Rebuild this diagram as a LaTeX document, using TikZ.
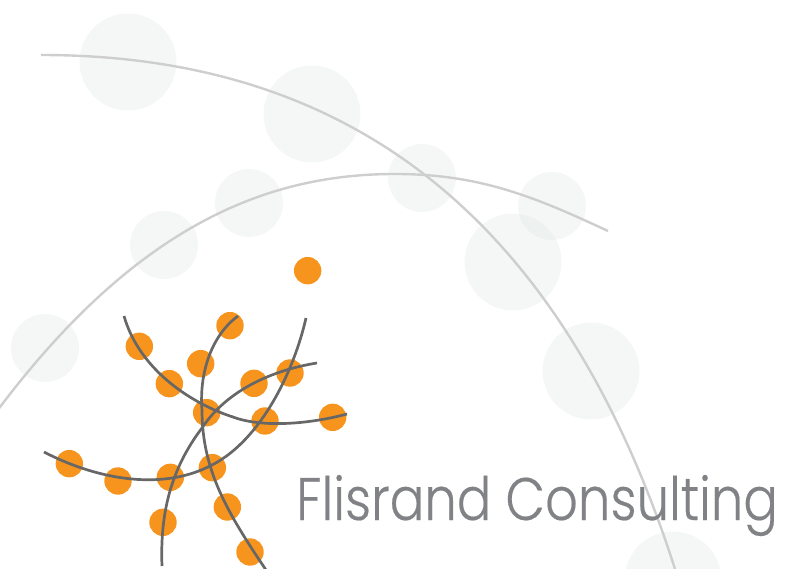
\documentclass[tikz,border=0pt]{standalone}
\usepackage{fontspec}
\setmainfont{Poppins Light}
\newfontfamily\titlefont[FakeStretch=0.855,FakeBold=0.3]{Poppins Light}
\definecolor{orangedot}{HTML}{F7941D}
\definecolor{darkarc}{HTML}{666766}
\definecolor{lightarc}{HTML}{CDCECD}
\definecolor{bubble}{RGB}{205,215,210}
\definecolor{titlegray}{HTML}{808285}
\tikzset{
  bigbub/.style={fill=bubble,fill opacity=.2,draw=none},
  dot/.style={fill=orangedot,draw=none},
  lightcurve/.style={draw=lightarc,line width=2.4pt},
  darkcurve/.style={draw=darkarc,line width=2.7pt},
}
\begin{document}
\begin{tikzpicture}[x=1pt,y=-1pt]
\useasboundingbox (0,0) rectangle (788,569);
\clip (0,0) rectangle (788,569);
\foreach \x/\y in {128/62,312/114,513/262,591/371,673/580}
  \fill[bigbub] (\x,\y) circle[radius=48.5];
\foreach \x/\y in {422/178,552/206,249/203,164/245,45/348}
  \fill[bigbub] (\x,\y) circle[radius=34];
\draw[lightcurve] (41,55) .. controls (340,55) and (559,207) .. (675,569);
\draw[lightcurve] (-3,411) .. controls (135,227) and (265,174) .. (395,174) .. controls (480,174) and (535,197) .. (608,231);
\foreach \x/\y in {923/62,690/227,418/289,602/341,508/401,762/400,870/369,620/488,795/513,998/502,208/641,354/693,511/682,637/653,682/771,489/817,750/906}
  \fill[dot] ({\x/3},{\y/3+250}) circle[radius=13.7];
\draw[darkcurve] (124,316) .. controls (140,372) and (195,405) .. (233,417) .. controls (262,428) and (310,424) .. (347,414);
\draw[darkcurve] (306,318) .. controls (294,371) and (261,440) .. (212,465) .. controls (159,493) and (92,477) .. (44,452);
\draw[darkcurve] (317,363) .. controls (273,370) and (227,390) .. (202,428) .. controls (170,470) and (160,515) .. (162,566);
\draw[darkcurve] (238,316) .. controls (212,335) and (199,372) .. (202,410) .. controls (202,470) and (227,512) .. (266,570);
\node[anchor=base west,inner sep=0pt,text=titlegray,font=\titlefont\fontsize{60}{60}\selectfont] (title) at (296,520) {Flisrand Consulting};
\end{tikzpicture}
\end{document}
